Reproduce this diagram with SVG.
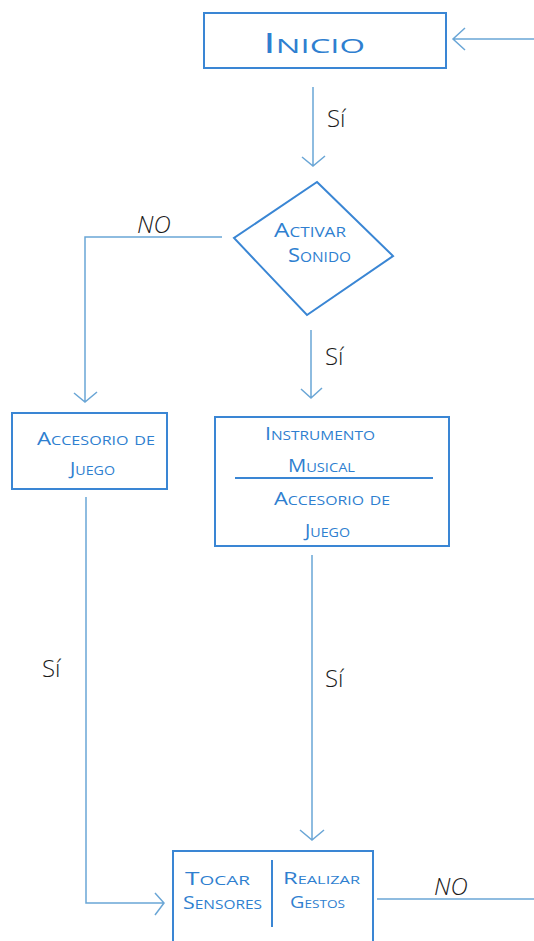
<svg xmlns="http://www.w3.org/2000/svg" width="534" height="941" viewBox="0 0 534 941">
<style>
.box{fill:none;stroke:#3a86d4;stroke-width:2}
.con{fill:none;stroke:#6aa6d6;stroke-width:1.5}
.lbl{font-family:"Open Sans","Liberation Sans",sans-serif;font-weight:400;fill:#2f7fd0;font-variant:small-caps}
.yn{font-family:"Open Sans","Liberation Sans",sans-serif;font-weight:300;fill:#1a1a1a;font-size:24px}
</style>
<rect width="534" height="941" fill="#ffffff"/>
<g id="connectors">
<path class="con" d="M534,39 H453 M465,28 L453,39 L465,50"/>
<path class="con" d="M313,87 V166 M302,157 L313,166 L325,156"/>
<path class="con" d="M222,237 H85 V402 M74,393 L85,402 L97,392"/>
<path class="con" d="M311,330 V398 M301,389 L311,398 L322,388"/>
<path class="con" d="M86,497 V903 H163 M155,893 L164,903 L155,915"/>
<path class="con" d="M312,555 V840 M300,830 L312,840 L324,830"/>
<path class="con" d="M377,899 H534"/>
<text class="yn" x="327" y="127">Sí</text>
<text class="yn" x="325" y="365">Sí</text>
<text class="yn" x="325" y="687">Sí</text>
<text class="yn" x="42" y="677">Sí</text>
<text class="yn" x="137" y="233" font-size="22" font-style="italic" font-weight="400">NO</text>
<text class="yn" x="434" y="895" font-size="22" font-style="italic" font-weight="400">NO</text>
</g>
<g id="inicio">
<rect class="box" x="204" y="13" width="242" height="55"/>
<text class="lbl" x="263" y="53" font-size="28" font-weight="300" textLength="102" lengthAdjust="spacingAndGlyphs">Inicio</text>
</g>
<g id="activar-sonido">
<polygon class="box" points="317,182 393,256 307,315 234,238" stroke-width="1.5"/>
<text class="lbl" x="274" y="237" font-size="20" textLength="72" lengthAdjust="spacingAndGlyphs">Activar</text>
<text class="lbl" x="288" y="262" font-size="20" textLength="63" lengthAdjust="spacingAndGlyphs">Sonido</text>
</g>
<g id="accesorio-juego">
<rect class="box" x="12" y="413" width="155" height="76"/>
<text class="lbl" x="37" y="445" font-size="18" textLength="118" lengthAdjust="spacingAndGlyphs">Accesorio de</text>
<text class="lbl" x="70" y="475" font-size="18" textLength="45" lengthAdjust="spacingAndGlyphs">Juego</text>
</g>
<g id="instrumento">
<rect class="box" x="215" y="417" width="234" height="129"/>
<line class="box" x1="235" y1="478" x2="433" y2="478"/>
<text class="lbl" x="265" y="440" font-size="18" textLength="110" lengthAdjust="spacingAndGlyphs">Instrumento</text>
<text class="lbl" x="288" y="472" font-size="18" textLength="67" lengthAdjust="spacingAndGlyphs">Musical</text>
<text class="lbl" x="274" y="505" font-size="18" textLength="116" lengthAdjust="spacingAndGlyphs">Accesorio de</text>
<text class="lbl" x="305" y="537" font-size="18" textLength="45" lengthAdjust="spacingAndGlyphs">Juego</text>
</g>
<g id="tocar-realizar">
<rect class="box" x="173" y="851" width="200" height="100"/>
<line class="box" x1="272" y1="860" x2="272" y2="927"/>
<text class="lbl" x="185" y="885" font-size="18" textLength="65" lengthAdjust="spacingAndGlyphs">Tocar</text>
<text class="lbl" x="183" y="909" font-size="18" textLength="79" lengthAdjust="spacingAndGlyphs">Sensores</text>
<text class="lbl" x="283" y="884" font-size="16" textLength="77" lengthAdjust="spacingAndGlyphs">Realizar</text>
<text class="lbl" x="290" y="908" font-size="16" textLength="55" lengthAdjust="spacingAndGlyphs">Gestos</text>
</g>
</svg>
